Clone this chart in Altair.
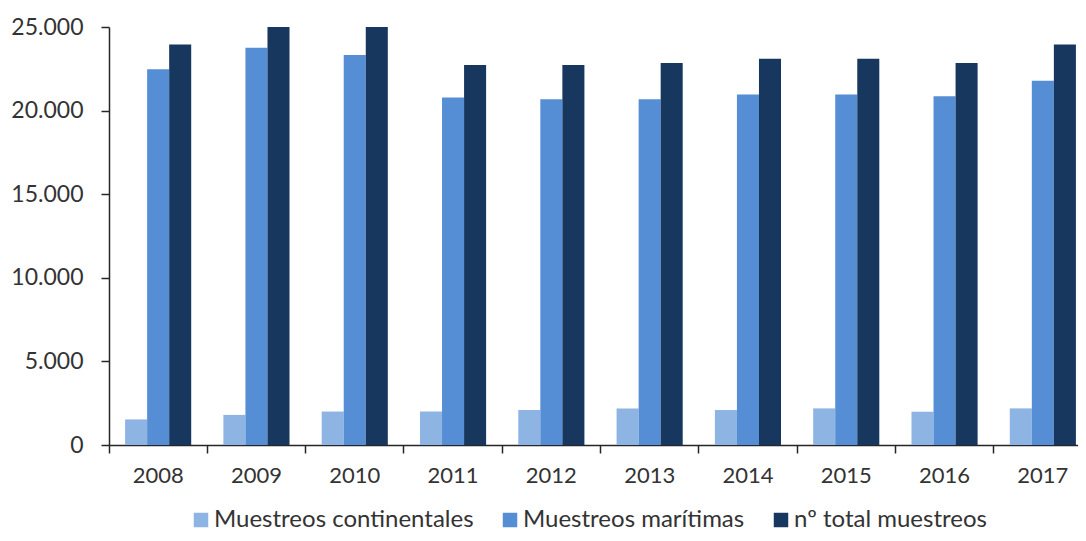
import altair as alt
import pandas as pd

years = ['2008', '2009', '2010', '2011', '2012', '2013', '2014', '2015', '2016', '2017']
series = ['Muestreos continentales', 'Muestreos marítimas', 'nº total muestreos']
continentales = [1530, 1800, 2000, 2000, 2090, 2190, 2090, 2190, 1990, 2190]
maritimas = [22470, 23760, 23320, 20780, 20680, 20680, 20960, 20960, 20860, 21790]
total = [23960, 25000, 25000, 22730, 22730, 22850, 23100, 23100, 22850, 23960]
colors = ['#8EB4E3', '#558ED5', '#17375E']
y_ticks = [0, 5000, 10000, 15000, 20000, 25000]

rows = []
for i, y in enumerate(years):
    for s, vals in zip(series, [continentales, maritimas, total]):
        rows.append({'year': y, 'serie': s, 'value': vals[i]})
df = pd.DataFrame(rows)

FONT = 'Lato'
TXT = '#333333'
AX = '#262626'

chart = alt.Chart(df).mark_bar().encode(
    x=alt.X('year:N', sort=years,
            scale=alt.Scale(range=[0, 983], paddingInner=0, paddingOuter=0),
            axis=alt.Axis(title=None, labelAngle=0, bandPosition=0,
                          tickSize=8, tickColor=AX, domainColor=AX, domainWidth=1.5, tickWidth=1.5,
                          labelFontSize=22, labelFont=FONT, labelColor=TXT, labelPadding=12,
                          grid=False)),
    xOffset=alt.XOffset('serie:N', sort=series,
                        scale=alt.Scale(domain=series, paddingInner=0, paddingOuter=0.73)),
    y=alt.Y('value:Q', scale=alt.Scale(domain=[0, 25000], nice=False, zero=True),
            axis=alt.Axis(title=None, values=y_ticks, grid=False,
                          labelExpr="replace(format(datum.value, ','), ',', '.')",
                          tickSize=8, tickColor=AX, domainColor=AX, domainWidth=1.5, tickWidth=1.5,
                          labelFontSize=23, labelFont=FONT, labelColor=TXT, labelPadding=18)),
    color=alt.Color('serie:N', sort=series,
                    scale=alt.Scale(domain=series, range=colors),
                    legend=alt.Legend(title=None, orient='none', direction='horizontal',
                                      legendX=80, legendY=481, symbolType='square',
                                      symbolSize=210, symbolStrokeWidth=0, columnPadding=24,
                                      labelFontSize=24, labelFont=FONT, labelColor=TXT,
                                      labelLimit=500, labelOffset=1, padding=0))
).properties(
    width=969, height=418,
    autosize=alt.AutoSizeParams(type='none'),
    padding={'left': 101, 'top': 19, 'right': 0, 'bottom': 88}
).configure_view(stroke=None)

chart.save('out.html', embed_options={'renderer': 'svg', 'actions': False})
